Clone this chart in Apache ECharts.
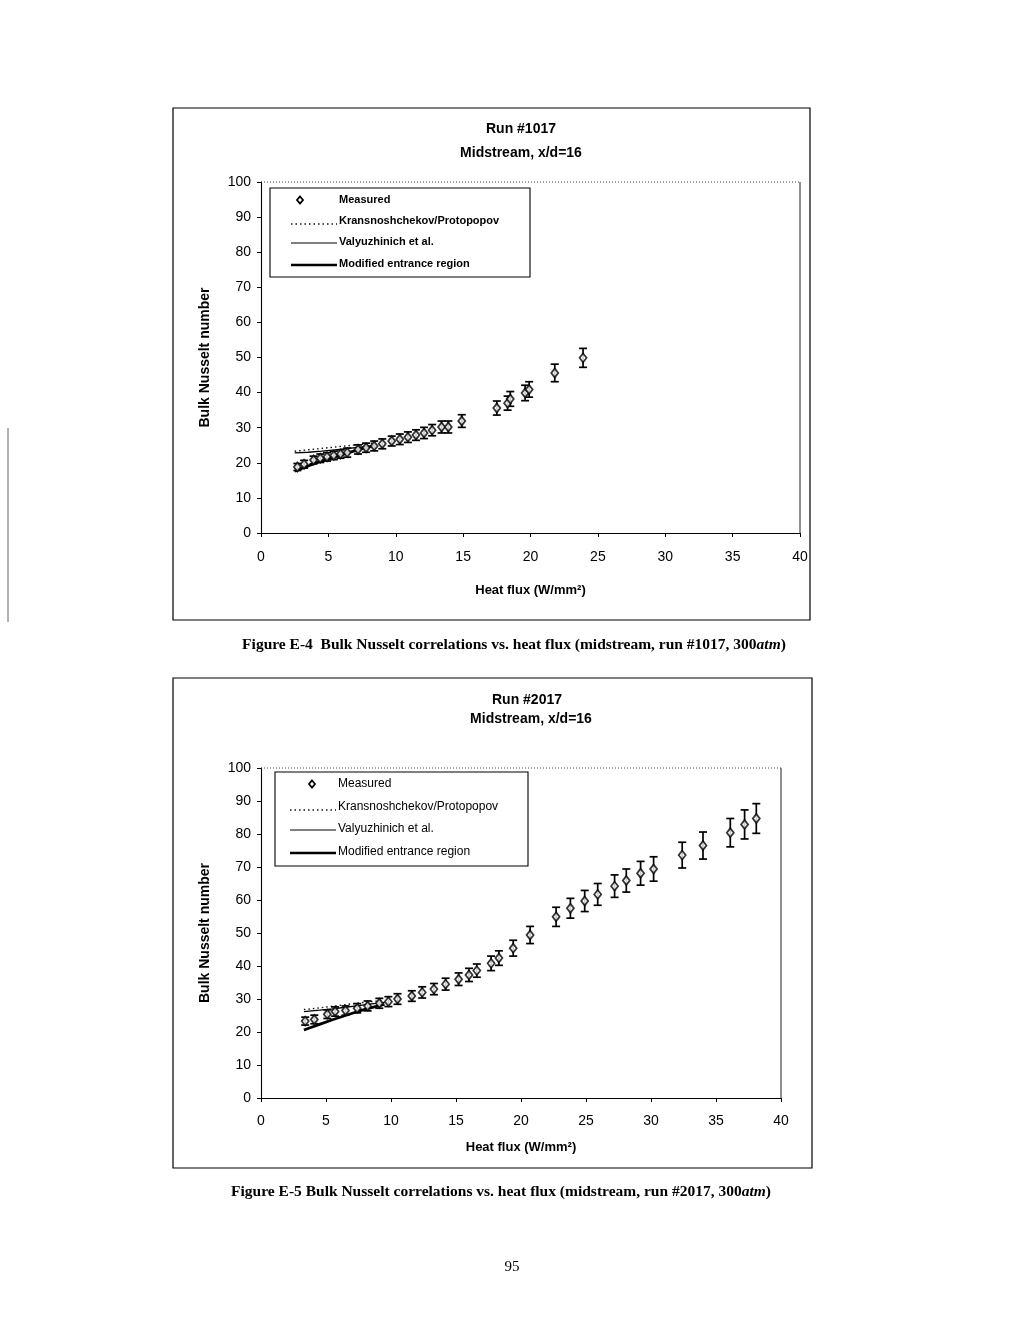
<!DOCTYPE html>
<html>
<head>
<meta charset="utf-8">
<script src="https://cdn.jsdelivr.net/npm/echarts@6/dist/echarts.min.js"></script>
<style>
html,body{margin:0;padding:0;background:#fff;}
#c{width:1024px;height:1317px;}
</style>
</head>
<body>
<div id="c"></div>
<script>
// ---------- Data: Run #1017 ----------
var r1_x   = [2.7, 3.2, 3.9, 4.4, 4.9, 5.4, 5.9, 6.4, 7.2, 7.8, 8.4, 9.0, 9.7, 10.3, 10.9, 11.5, 12.1, 12.7, 13.4, 13.9, 14.9, 17.5, 18.3, 18.5, 19.6, 19.9, 21.8, 23.9];
var r1_y   = [18.8, 19.6, 20.8, 21.3, 21.7, 22.1, 22.5, 22.9, 23.8, 24.3, 24.8, 25.4, 26.2, 26.7, 27.3, 27.9, 28.5, 29.3, 30.2, 30.2, 31.9, 35.6, 37.0, 38.2, 39.9, 40.9, 45.6, 49.9];
var r1_err = [1.0, 1.1, 1.1, 1.2, 1.2, 1.2, 1.2, 1.3, 1.3, 1.3, 1.4, 1.4, 1.4, 1.5, 1.5, 1.5, 1.6, 1.6, 1.7, 1.7, 1.8, 2.0, 2.0, 2.1, 2.2, 2.2, 2.5, 2.7];
var r1_corr_x = [2.5, 3.5, 4.5, 5.5, 6.5, 7.5, 8.5];
var r1_kras   = [23.3, 23.7, 24.1, 24.5, 24.9, 25.3, 25.7];
var r1_valy   = [22.8, 23.0, 23.3, 23.7, 24.1, 24.5, 24.9];
var r1_mod    = [17.6, 19.1, 20.5, 21.7, 22.9, 24.0, 25.0];

// ---------- Data: Run #2017 ----------
var r2_x   = [3.4, 4.1, 5.1, 5.7, 6.5, 7.4, 8.2, 9.1, 9.8, 10.5, 11.6, 12.4, 13.3, 14.2, 15.2, 16.0, 16.6, 17.7, 18.3, 19.4, 20.7, 22.7, 23.8, 24.9, 25.9, 27.2, 28.1, 29.2, 30.2, 32.4, 34.0, 36.1, 37.2, 38.1];
var r2_y   = [23.3, 23.8, 25.4, 26.2, 26.5, 27.2, 27.9, 28.7, 29.2, 30.0, 30.9, 32.0, 33.0, 34.5, 36.0, 37.3, 38.6, 40.8, 42.4, 45.4, 49.4, 54.9, 57.5, 59.7, 61.7, 64.2, 65.9, 68.1, 69.4, 73.6, 76.5, 80.4, 82.9, 84.7];
var r2_err = [1.2, 1.3, 1.3, 1.4, 1.4, 1.4, 1.5, 1.5, 1.5, 1.6, 1.6, 1.7, 1.7, 1.8, 1.9, 2.0, 2.0, 2.2, 2.2, 2.4, 2.6, 2.9, 3.0, 3.2, 3.3, 3.4, 3.5, 3.6, 3.7, 3.9, 4.1, 4.3, 4.4, 4.5];
var r2_corr_x = [3.3, 4.5, 5.5, 6.5, 7.5, 8.5, 9.5];
var r2_kras   = [26.8, 27.3, 27.8, 28.3, 28.8, 29.2, 29.6];
var r2_valy   = [26.2, 26.6, 27.0, 27.5, 28.0, 28.5, 29.0];
var r2_mod    = [20.6, 22.3, 23.7, 25.0, 26.3, 27.4, 28.4];

// ---------- Tick labels / texts ----------
var xTicks = [0, 40, 5];   // min, max, interval
var yTicks = [0, 100, 10];
var legendNames = ['Measured', 'Kransnoshchekov/Protopopov', 'Valyuzhinich et al.', 'Modified entrance region'];

var SANS = '"Liberation Sans", Arial, sans-serif';
var SERIF = '"Liberation Serif", "Times New Roman", serif';
var INK = '#000';

function zip(a, b) { return a.map(function (v, i) { return [v, b[i]]; }); }
function zip3(a, b, c) { return a.map(function (v, i) { return [v, b[i], c[i]]; }); }

function errRender(params, api) {
  var x = api.value(0), y = api.value(1), e = api.value(2);
  var top = api.coord([x, y + e]);
  var bot = api.coord([x, y - e]);
  var hw = 4;
  var st = { stroke: INK, lineWidth: 1.7 };
  return {
    type: 'group',
    children: [
      { type: 'line', shape: { x1: top[0], y1: top[1], x2: bot[0], y2: bot[1] }, style: st },
      { type: 'line', shape: { x1: top[0] - hw, y1: top[1], x2: top[0] + hw, y2: top[1] }, style: st },
      { type: 'line', shape: { x1: bot[0] - hw, y1: bot[1], x2: bot[0] + hw, y2: bot[1] }, style: st }
    ]
  };
}

function makeAxes(gi, xGap, yGap, xMargin) {
  var common = {
    gridIndex: gi,
    axisLine: { show: true, lineStyle: { color: INK, width: 1.1 } },
    axisTick: { show: true, length: 4, lineStyle: { color: INK } },
    splitLine: { show: false }
  };
  var xa = Object.assign({}, common, {
    type: 'value', min: xTicks[0], max: xTicks[1], interval: xTicks[2],
    name: 'Heat flux (W/mm²)', nameLocation: 'middle', nameGap: xGap,
    nameTextStyle: { color: INK, fontFamily: SANS, fontSize: 13, fontWeight: 'bold' },
    axisLabel: { color: INK, fontFamily: SANS, fontSize: 14, margin: xMargin }
  });
  var ya = Object.assign({}, common, {
    type: 'value', min: yTicks[0], max: yTicks[1], interval: yTicks[2],
    name: 'Bulk Nusselt number', nameLocation: 'middle', nameGap: yGap,
    nameTextStyle: { color: INK, fontFamily: SANS, fontSize: 14, fontWeight: 'bold' },
    axisLabel: { color: INK, fontFamily: SANS, fontSize: 14, margin: 10 }
  });
  return [xa, ya];
}

var a1 = makeAxes(0, 51, 49, 17);
var a2 = makeAxes(1, 43, 49, 16);

function corrSeries(gi, xs, kras, valy, mod) {
  return [
    { type: 'line', name: legendNames[1], xAxisIndex: gi, yAxisIndex: gi, data: zip(xs, kras), symbol: 'none',
      lineStyle: { color: '#111', width: 1.4, type: [1.5, 3] }, z: 2 },
    { type: 'line', name: legendNames[2], xAxisIndex: gi, yAxisIndex: gi, data: zip(xs, valy), symbol: 'none',
      lineStyle: { color: INK, width: 1.3 }, z: 2 },
    { type: 'line', name: legendNames[3], xAxisIndex: gi, yAxisIndex: gi, data: zip(xs, mod), symbol: 'none',
      lineStyle: { color: INK, width: 2.8 }, z: 2 }
  ];
}

function measSeries(gi, xs, ys, es) {
  return [
    { type: 'custom', xAxisIndex: gi, yAxisIndex: gi, data: zip3(xs, ys, es), renderItem: errRender, z: 3, silent: true },
    { type: 'scatter', name: legendNames[0], xAxisIndex: gi, yAxisIndex: gi, data: zip(xs, ys), symbol: 'diamond', symbolSize: [7, 9],
      itemStyle: { color: '#fff', borderColor: INK, borderWidth: 1.8 }, z: 4 }
  ];
}

// legend drawn with graphic primitives
function legendGraphic(bx, by, bw, bh, rows, textX, lineX1, lineX2, markX, bold, fs) {
  var g = [];
  g.push({ type: 'rect', shape: { x: bx, y: by, width: bw, height: bh }, style: { fill: '#fff', stroke: INK, lineWidth: 1.1 }, z: 10 });
  var font = (bold ? 'bold ' : '') + fs + 'px ' + SANS;
  g.push({ type: 'polygon', shape: { points: [[markX, rows[0] - 3.5], [markX + 3, rows[0]], [markX, rows[0] + 3.5], [markX - 3, rows[0]]] },
    style: { fill: '#fff', stroke: INK, lineWidth: 1.8 }, z: 11 });
  g.push({ type: 'line', shape: { x1: lineX1, y1: rows[1] + 3, x2: lineX2, y2: rows[1] + 3 }, style: { stroke: '#111', lineWidth: 1.3, lineDash: [1.5, 3] }, z: 11 });
  g.push({ type: 'line', shape: { x1: lineX1, y1: rows[2] + 1, x2: lineX2, y2: rows[2] + 1 }, style: { stroke: INK, lineWidth: 1.2 }, z: 11 });
  g.push({ type: 'line', shape: { x1: lineX1, y1: rows[3] + 1, x2: lineX2, y2: rows[3] + 1 }, style: { stroke: INK, lineWidth: 2.4 }, z: 11 });
  for (var i = 0; i < 4; i++) {
    g.push({ type: 'text', x: textX, y: rows[i], style: { text: legendNames[i], font: font, fill: INK, textAlign: 'left', textVerticalAlign: 'middle' }, z: 11 });
  }
  return g;
}

var graphics = [];
graphics.push({ type: 'rect', shape: { x: 173, y: 108, width: 637, height: 512 }, style: { fill: 'none', stroke: INK, lineWidth: 1.2 }, z: 0 });
graphics.push({ type: 'rect', shape: { x: 173, y: 678, width: 639, height: 490 }, style: { fill: 'none', stroke: INK, lineWidth: 1.2 }, z: 0 });
graphics.push({ type: 'line', shape: { x1: 261, y1: 182, x2: 800, y2: 182 }, style: { stroke: '#444', lineWidth: 1, lineDash: [1, 2] }, z: 1 });
graphics.push({ type: 'line', shape: { x1: 800, y1: 182, x2: 800, y2: 533 }, style: { stroke: '#222', lineWidth: 1 }, z: 1 });
graphics.push({ type: 'line', shape: { x1: 261, y1: 768, x2: 781, y2: 768 }, style: { stroke: '#444', lineWidth: 1, lineDash: [1, 2] }, z: 1 });
graphics.push({ type: 'line', shape: { x1: 781, y1: 768, x2: 781, y2: 1098 }, style: { stroke: '#222', lineWidth: 1 }, z: 1 });
var tFont = 'bold 14px ' + SANS;
graphics.push({ type: 'text', x: 521, y: 129, style: { text: 'Run #1017', font: tFont, fill: INK, textAlign: 'center', textVerticalAlign: 'middle' } });
graphics.push({ type: 'text', x: 521, y: 153, style: { text: 'Midstream, x/d=16', font: tFont, fill: INK, textAlign: 'center', textVerticalAlign: 'middle' } });
graphics.push({ type: 'text', x: 527, y: 700, style: { text: 'Run #2017', font: tFont, fill: INK, textAlign: 'center', textVerticalAlign: 'middle' } });
graphics.push({ type: 'text', x: 531, y: 719, style: { text: 'Midstream, x/d=16', font: tFont, fill: INK, textAlign: 'center', textVerticalAlign: 'middle' } });
function caption(x, y, pre) {
  return { type: 'text', x: x, y: y, style: {
    text: '{b|' + pre + '}{i|atm}{b|)}',
    textAlign: 'center', textVerticalAlign: 'middle', fill: INK,
    rich: {
      b: { fontFamily: SERIF, fontSize: 15.5, fontWeight: 'bold', fill: INK },
      i: { fontFamily: SERIF, fontSize: 15.5, fontWeight: 'bold', fontStyle: 'italic', fill: INK }
    } } };
}
graphics.push(caption(514, 645, 'Figure E-4  Bulk Nusselt correlations vs. heat flux (midstream, run #1017, 300'));
graphics.push(caption(501, 1192, 'Figure E-5 Bulk Nusselt correlations vs. heat flux (midstream, run #2017, 300'));
graphics.push({ type: 'text', x: 512, y: 1267, style: { text: '95', font: '15px ' + SERIF, fill: INK, textAlign: 'center', textVerticalAlign: 'middle' } });
graphics.push({ type: 'line', shape: { x1: 8, y1: 428, x2: 8, y2: 622 }, style: { stroke: '#666', lineWidth: 1 } });
graphics = graphics.concat(legendGraphic(270, 188, 260, 89, [200, 221, 242, 264], 339, 291, 337, 300, true, 11));
graphics = graphics.concat(legendGraphic(275, 772, 253, 94, [784, 807, 829, 852], 338, 290, 336, 312, false, 12));

var option = {
  backgroundColor: '#fff',
  animation: false,
  grid: [
    { left: 261, top: 182, width: 539, height: 351 },
    { left: 261, top: 768, width: 520, height: 330 }
  ],
  xAxis: [a1[0], a2[0]],
  yAxis: [a1[1], a2[1]],
  series: [].concat(
    corrSeries(0, r1_corr_x, r1_kras, r1_valy, r1_mod),
    measSeries(0, r1_x, r1_y, r1_err),
    corrSeries(1, r2_corr_x, r2_kras, r2_valy, r2_mod),
    measSeries(1, r2_x, r2_y, r2_err)
  ),
  graphic: graphics
};

var chart = echarts.init(document.getElementById('c'));
chart.setOption(option);
</script>
</body>
</html>
